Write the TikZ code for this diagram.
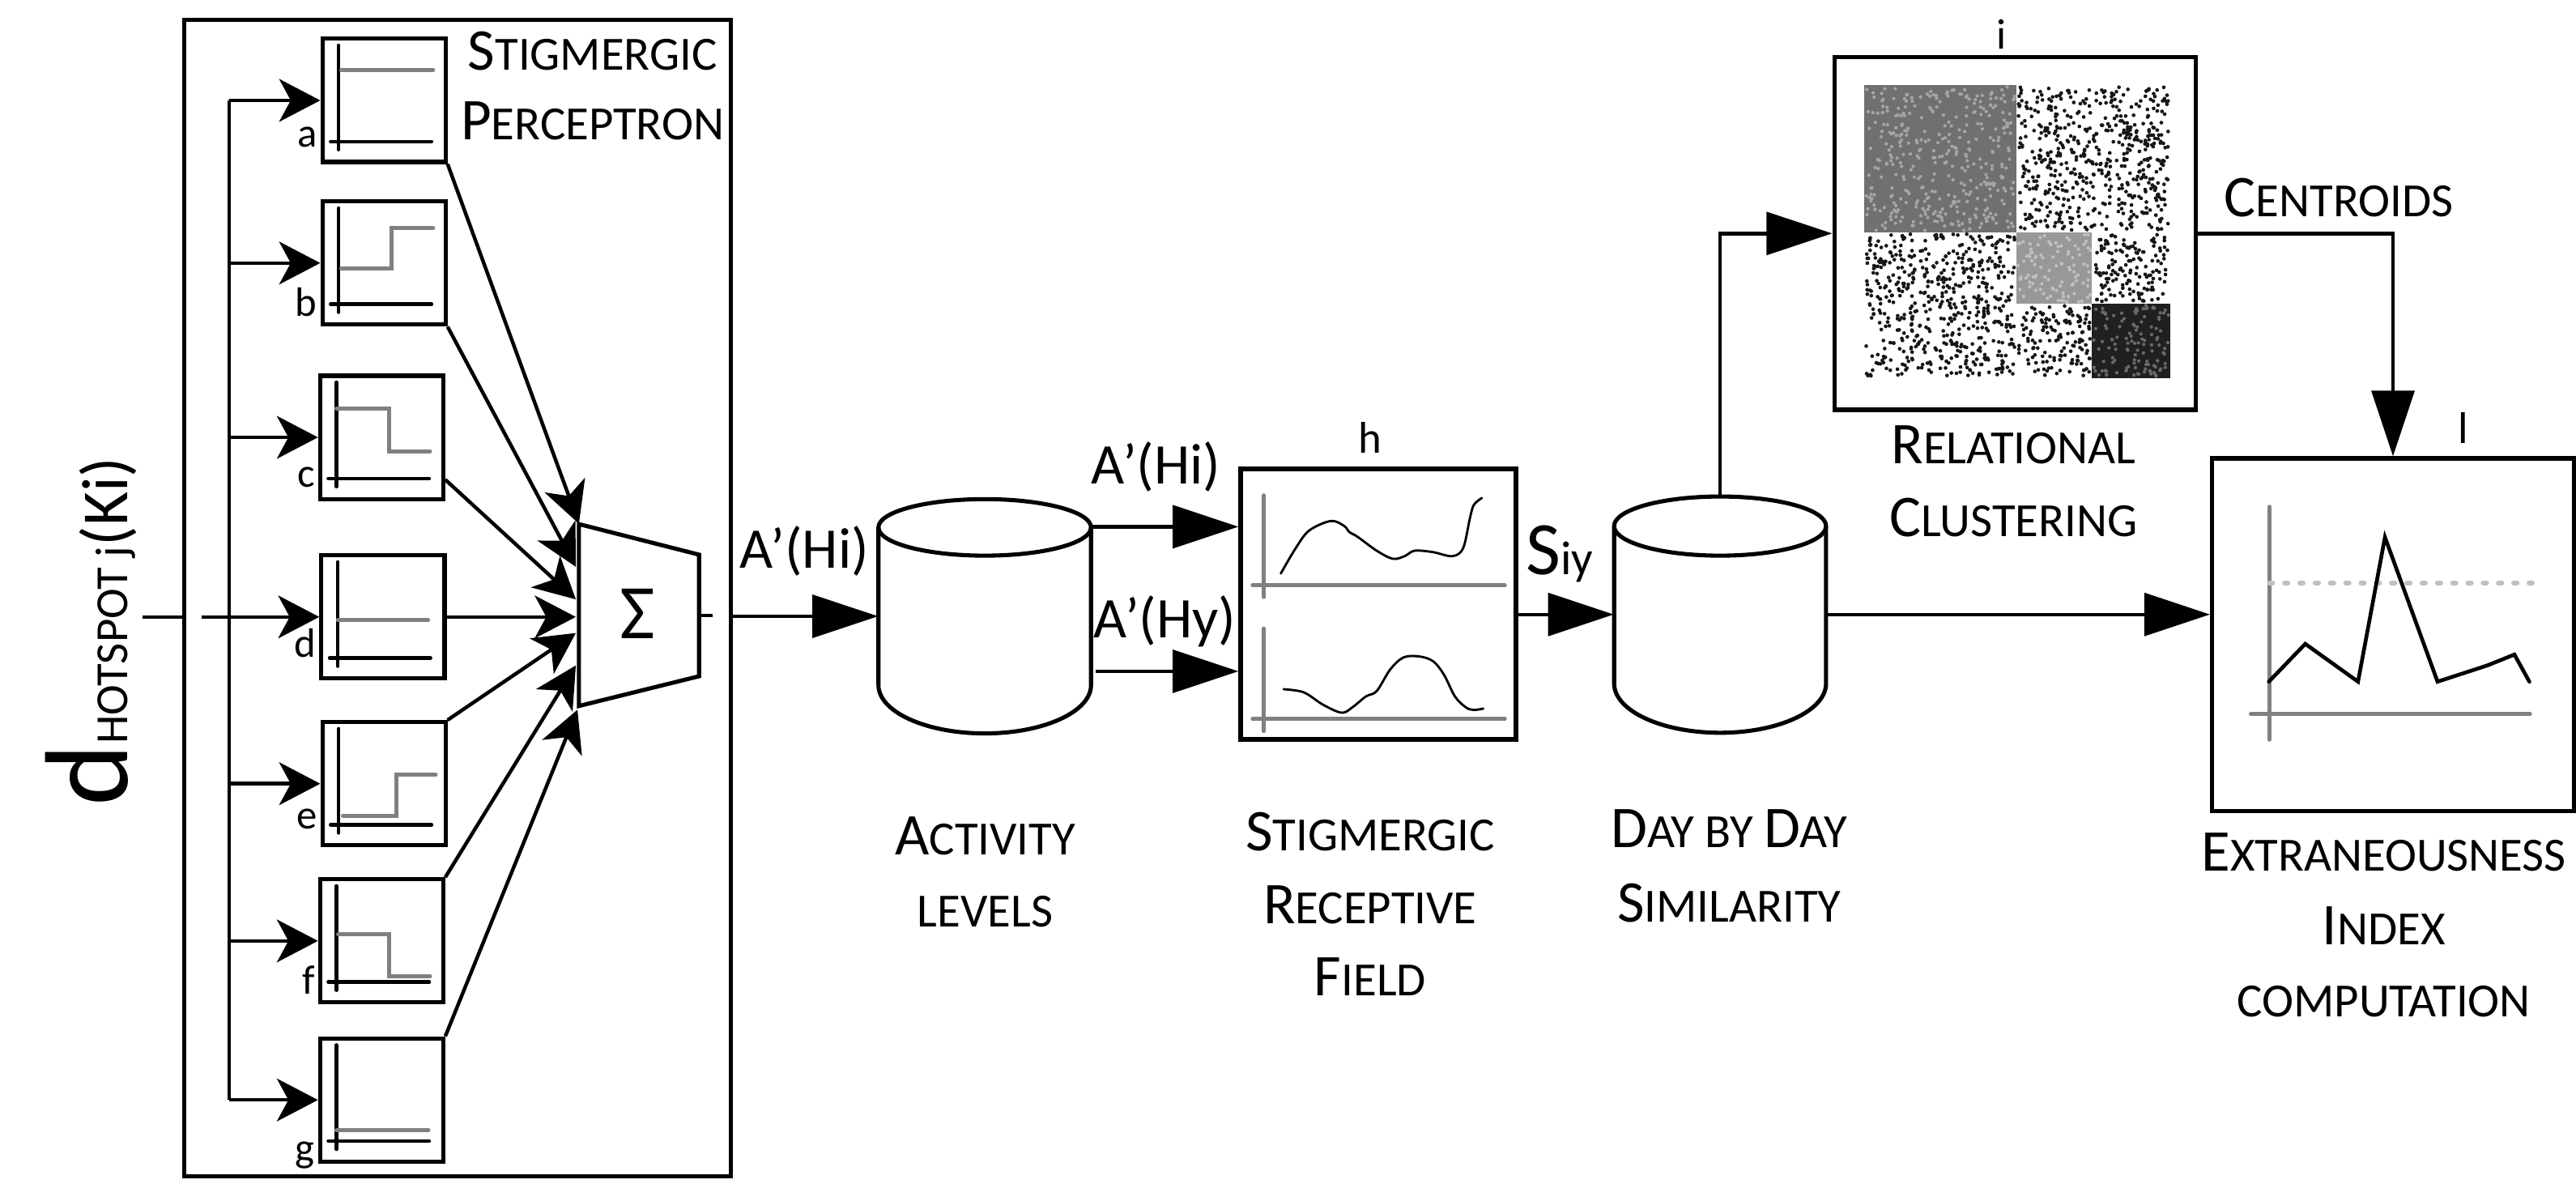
\documentclass[tikz,border=0pt]{standalone}
\usepackage{fontspec}
\setmainfont{Carlito}
\usetikzlibrary{arrows.meta,calc}
\newcommand\mysc[2]{{\fontsize{36}{36}\selectfont #1}{\fontsize{29}{29}\selectfont #2}}
\definecolor{axg}{RGB}{128,128,128}
\definecolor{dashg}{RGB}{192,192,192}
\definecolor{blkA}{RGB}{112,112,112}
\definecolor{blkAs}{RGB}{165,165,165}
\definecolor{blkB}{RGB}{152,152,152}
\definecolor{blkBs}{RGB}{192,192,192}
\definecolor{blkC}{RGB}{32,32,32}
\definecolor{blkCs}{RGB}{105,105,105}
\definecolor{dotc}{RGB}{22,22,22}
\begin{document}
\begin{tikzpicture}[x=1pt,y=-1pt,
  sbox/.style={draw, line width=2.5pt, inner sep=0pt, minimum width=75pt, minimum height=75pt},
  bigbox/.style={draw, line width=2.5pt, inner sep=0pt},
  blk/.style={line width=2.1pt, line cap=round},
  gry/.style={draw=axg, line width=2.4pt, line cap=round},
  wire/.style={line width=2.2pt},
  busarr/.style={wire, -{Stealth[length=25pt,width=26pt,inset=7pt]}},
  mainarr/.style={wire, -{Triangle[length=40pt,width=26pt]}},
  cyl/.style={line width=2.5pt},
  lab/.style={inner sep=0pt, font=\fontsize{25}{25}\selectfont},
  txt/.style={inner sep=0pt, anchor=base},
  quo/.style={inner sep=0pt, anchor=base, font=\fontsize{35}{35}\selectfont}
]
\fill[white] (0,0) rectangle (1568,720.2);
\useasboundingbox (0,0) rectangle (1568,720.2);

% ---------- perceptron frame ----------
\node[bigbox, minimum width=333pt, minimum height=703.7pt] (frame) at (278.5,364.15) {};
\node[txt] (tsp1) at (360.7,42.4) {\mysc{S}{TIGMERGIC}};
\node[txt] (tsp2) at (360.7,84.9) {\mysc{P}{ERCEPTRON}};

% step boxes
\begin{scope}[shift={(196.2,23.6)}]
\node[sbox] (a) at (37.5,37.5) {};
\draw[blk] (10,4) -- (10,67.5) (5,62.5) -- (66.5,62.5);
\draw[gry] (11.5,19) -- (67.5,19);
\node[lab, anchor=base east] (la) at (-3,66) {a};
\end{scope}
\begin{scope}[shift={(196.2,122.6)}]
\node[sbox] (b) at (37.5,37.5) {};
\draw[blk] (10,4) -- (10,67.5) (5,62.5) -- (66.5,62.5);
\draw[gry] (11.5,41) -- (42,41) -- (42,16) -- (67.5,16);
\node[lab, anchor=base east] (lb) at (-3,70) {b};
\end{scope}
\begin{scope}[shift={(194.8,228.7)}]
\node[sbox] (c) at (37.5,37.5) {};
\draw[blk] (10,4) -- (10,67.5) (5,62.5) -- (66.5,62.5);
\draw[gry] (10,20) -- (42,20) -- (42,46) -- (67,46);
\node[lab, anchor=base east] (lc) at (-3,68) {c};
\end{scope}
\begin{scope}[shift={(195.6,338)}]
\node[sbox] (d) at (37.5,37.5) {};
\draw[blk] (10,4) -- (10,67.5) (5,62.5) -- (66.5,62.5);
\draw[gry] (10,39.5) -- (65,39.5);
\node[lab, anchor=base east] (ld) at (-3,62) {d};
\end{scope}
\begin{scope}[shift={(196.2,439.5)}]
\node[sbox] (e) at (37.5,37.5) {};
\draw[blk] (10,4) -- (10,67.5) (5,62.5) -- (66.5,62.5);
\draw[gry] (12.5,57) -- (45,57) -- (45,32) -- (69,32);
\node[lab, anchor=base east] (le) at (-3,65) {e};
\end{scope}
\begin{scope}[shift={(194.8,535.2)}]
\node[sbox] (f) at (37.5,37.5) {};
\draw[blk] (10,4) -- (10,67.5) (5,62.5) -- (66.5,62.5);
\draw[gry] (11,33.5) -- (42,33.5) -- (42,59) -- (67,59);
\node[lab, anchor=base east] (lf) at (-3,70) {f};
\end{scope}
\begin{scope}[shift={(194.8,632)}]
\node[sbox] (g) at (37.5,37.5) {};
\draw[blk] (10,4) -- (10,67.5) (5,62.5) -- (66.5,62.5);
\draw[gry] (10,56) -- (66,56);
\node[lab, anchor=base east] (lg) at (-3,75) {g};
\end{scope}

% input and bus
\coordinate (in) at (87,375.5);
\coordinate (in2) at (122.5,375.5);
\coordinate (bus) at (139.5,0);
\draw[wire] (in) -- (frame.west |- in);
\draw[wire] (bus |- a.west) -- (bus |- g.west);
\foreach \n in {a,b,c,e,f,g}{\draw[busarr] (bus |- \n.west) -- (\n.west);}
\draw[busarr] (in2) -- (d.west);

% summation
\draw[line width=2.5pt, line join=miter] (352.4,319) -- (425.5,337.6) -- (425.5,411.6) -- (352.4,429.7) -- cycle;
\node[inner sep=0pt, font=\fontsize{47}{47}\selectfont] (sum) at (388,373.8) {Σ};
\coordinate (ta) at (352.4,318.8);
\coordinate (tb) at (350.5,345);
\coordinate (tc) at (350.5,364.8);
\coordinate (td) at (350.5,375.5);
\coordinate (te) at (350.5,385.3);
\coordinate (tf) at (350.5,405);
\coordinate (tg) at (351.5,432);
\draw[busarr] (a.south east) -- (ta);
\draw[busarr] (b.south east) -- (tb);
\draw[busarr] ($(c.south east)+(0,-13)$) -- (tc);
\draw[busarr] (d.east) -- (td);
\draw[busarr] (e.north east) -- (te);
\draw[busarr] (f.north east) -- (tf);
\draw[busarr] (g.north east) -- (tg);
\coordinate (sout) at (425.5,374.6);
\draw[wire] (sout) -- ++(8.3,0);

% ---------- activity cylinder ----------
\node[inner sep=0pt, minimum width=129.4pt, minimum height=142.6pt] (act) at (599.4,375.1) {};
\draw[cyl] (599.4,321) ellipse [x radius=64.7pt, y radius=17.2pt];
\draw[cyl] (534.7,321) -- (534.7,417) arc[start angle=180, end angle=360, x radius=64.7pt, y radius=29.4pt] -- (664.1,321);
\draw[mainarr] (frame.east |- act.west) -- (act.west);
\node[quo] (qa) at (489.5,345.8) {A’(Hi)};
\node[txt] (tal1) at (599.7,520.5) {\mysc{A}{CTIVITY}};
\node[txt] (tal2) at (599.7,564) {\mysc{}{LEVELS}};

% ---------- receptive field box ----------
\node[bigbox, line width=3pt, minimum width=167.6pt, minimum height=164.8pt] (hbox) at (839.1,367.8) {};
\node[inner sep=0pt, anchor=base, font=\fontsize{27}{27}\selectfont] (lh) at (833.9,276) {h};
\coordinate (hin1) at (hbox.west |- 0,320.6);
\coordinate (hin2) at (hbox.west |- 0,408.6);
\draw[mainarr] (act.east |- hin1) -- (hin1);
\draw[mainarr] ($(act.east |- hin2)+(2.5,0)$) -- (hin2);
\node[quo] (qb) at (703.7,294.3) {A’(Hi)};
\node[quo] (qc) at (709,388.4) {A’(Hy)};
\draw[gry] (769.3,301.5) -- (769.3,363.4) (762.4,356.2) -- (916,356.2);
\draw[gry] (769.3,382.5) -- (769.3,445) (762.4,437.5) -- (916,437.5);
\draw[line width=1.4pt, line cap=round] plot[smooth, tension=0.55] coordinates {(779.6,349.1) (788.7,333.6) (796.9,322.9) (810,317.1) (818,320) (821.5,324) (826,326.5) (838,335.2) (847.8,340.1) (855,338.5) (861,335.2) (872,336) (884,338.5) (890.6,333.6) (894.7,315.5) (897.1,307.3) (902,303.1)};
\draw[line width=1.4pt, line cap=round] plot[smooth, tension=0.55] coordinates {(781.3,419.5) (793.6,421.4) (805.1,428.8) (816.6,433.8) (823.2,430.5) (831.4,423.9) (838,420.6) (846.2,407.5) (854.4,400.1) (864.2,399.6) (872.5,402.6) (879,410.8) (885.6,423.9) (892.2,430.5) (897,432.1) (902.9,431.3)};
\node[txt] (tsr1) at (834,518) {\mysc{S}{TIGMERGIC}};
\node[txt] (tsr2) at (834,562) {\mysc{R}{ECEPTIVE}};
\node[txt] (tsr3) at (834,606) {\mysc{F}{IELD}};

% ---------- day by day cylinder ----------
\node[inner sep=0pt, minimum width=129pt, minimum height=144pt] (day) at (1047,374) {};
\draw[cyl] (1047,320.2) ellipse [x radius=64.5pt, y radius=18pt];
\draw[cyl] (982.5,320.2) -- (982.5,416) arc[start angle=180, end angle=360, x radius=64.5pt, y radius=30pt] -- (1111.5,320.2);
\draw[mainarr] (hbox.east |- day.west) -- (day.west);
\node[inner sep=0pt, anchor=base west] (siy) at (928.7,349.6) {{\fontsize{46}{46}\selectfont S}{\fontsize{29}{29}\selectfont iy}};
\node[txt] (tdd1) at (1052.5,516) {\mysc{D}{AY BY }\mysc{D}{AY}};
\node[txt] (tdd2) at (1052.5,561.4) {\mysc{S}{IMILARITY}};

% ---------- relational clustering ----------
\node[bigbox, minimum width=220.2pt, minimum height=214.6pt] (clus) at (1226.6,142.1) {};
\node[inner sep=0pt, anchor=base, font=\fontsize{26}{26}\selectfont] (li) at (1218.4,29.6) {i};
\fill[blkA] (1134.5,51.8) rectangle (1227.4,141.3);
\fill[blkB] (1227.4,141.3) rectangle (1273.4,184.8);
\fill[blkC] (1273.4,184.8) rectangle (1321,230);
\pgfmathsetseed{17}
\foreach \k in {1,...,380}{\pgfmathsetmacro\px{1135.5+rnd*91}\pgfmathsetmacro\py{52.8+rnd*87.5}\fill[blkAs] (\px,\py) circle (1.05pt);}
\foreach \k in {1,...,100}{\pgfmathsetmacro\px{1228.4+rnd*44}\pgfmathsetmacro\py{142.3+rnd*41.5}\fill[blkBs] (\px,\py) circle (1.05pt);}
\foreach \k in {1,...,120}{\pgfmathsetmacro\px{1274.4+rnd*45.6}\pgfmathsetmacro\py{185.8+rnd*43.2}\fill[blkCs] (\px,\py) circle (1.05pt);}
\foreach \k in {1,...,560}{\pgfmathsetmacro\px{1228.6+rnd*91.2}\pgfmathsetmacro\py{53+rnd*87}\fill[dotc] (\px,\py) circle (1.15pt);}
\foreach \k in {1,...,560}{\pgfmathsetmacro\px{1135.7+rnd*90.5}\pgfmathsetmacro\py{142.5+rnd*86.3}\fill[dotc] (\px,\py) circle (1.15pt);}
\foreach \k in {1,...,145}{\pgfmathsetmacro\px{1274.6+rnd*45.2}\pgfmathsetmacro\py{142.5+rnd*41.1}\fill[dotc] (\px,\py) circle (1.15pt);}
\foreach \k in {1,...,145}{\pgfmathsetmacro\px{1228.6+rnd*43.6}\pgfmathsetmacro\py{186+rnd*42.8}\fill[dotc] (\px,\py) circle (1.15pt);}
\draw[mainarr] (day.north) |- (clus.west);
\node[txt] (trc1) at (1225.6,282) {\mysc{R}{ELATIONAL}};
\node[txt] (trc2) at (1225.6,326.8) {\mysc{C}{LUSTERING}};

% ---------- extraneousness index ----------
\node[bigbox, minimum width=220.2pt, minimum height=214.7pt] (lbox) at (1456.6,386.35) {};
\node[inner sep=0pt, anchor=base, font=\fontsize{27}{27}\selectfont] (ll) at (1499.3,270) {l};
\draw[mainarr] (clus.east) -| (lbox.north);
\node[txt] (tce) at (1423.7,132) {\mysc{C}{ENTROIDS}};
\draw[mainarr] (day.east) -- (lbox.west |- day.east);
\draw[gry] (1381.3,308.4) -- (1381.3,450.2) (1370,434.6) -- (1540,434.6);
\draw[draw=dashg, line width=3pt, line cap=round, dash pattern=on 2pt off 7.3pt] (1381.3,354.9) -- (1541.7,354.9);
\draw[line width=2.3pt, line cap=round] (1381,414.9) -- (1403.2,391.9) -- (1435.3,414.9) -- (1451.7,327) -- (1483.7,414.9) -- (1514.1,405) -- (1530.5,398.4) -- (1539.6,414.9);
\node[txt] (tex1) at (1451,530) {\mysc{E}{XTRANEOUSNESS}};
\node[txt] (tex2) at (1451,574.8) {\mysc{I}{NDEX}};
\node[txt] (tex3) at (1451,619) {\mysc{}{COMPUTATION}};

% ---------- rotated input label ----------
\node[inner sep=0pt, rotate=90, anchor=base west] (dlab) at (77.5,491) {{\fontsize{72}{72}\selectfont d}{\fontsize{28}{28}\selectfont HOTSPOT j}{\fontsize{40}{40}\selectfont (Ki)}};
\end{tikzpicture}
\end{document}
